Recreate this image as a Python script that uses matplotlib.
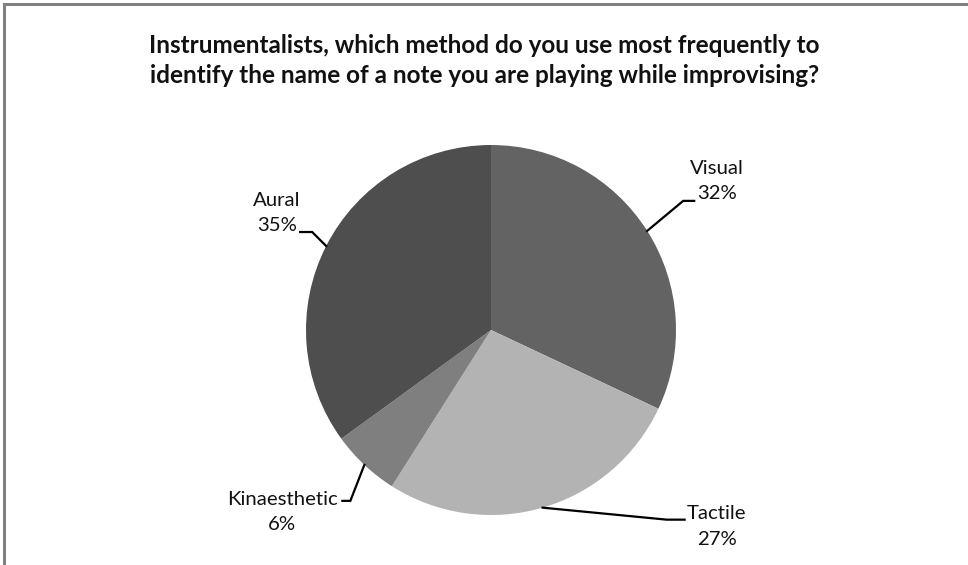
import numpy as np
import matplotlib
matplotlib.use("Agg")
import matplotlib.pyplot as plt
from matplotlib.patches import Rectangle

title = ("Instrumentalists, which method do you use most frequently to\n"
         "identify the name of a note you are playing while improvising?")
labels = ["Visual", "Tactile", "Kinaesthetic", "Aural"]
shares = [32, 27, 6, 35]
colors = ["#636363", "#b3b3b3", "#7f7f7f", "#4e4e4e"]

# label placement (pixel offsets from the wedge edge point): elbow, line end, text centre
elbows = [(36, 30), (124, -12), (-14, -36), (-14, 14)]
line_ends = [(47, 30), (142, -12), (-22, -36), (-26, 14)]
text_pos = [(70, 50), (174, -19), (-82, -47), (-49, 33)]

W, H = 968, 565
plt.rcParams["font.family"] = ["Lato", "DejaVu Sans"]

fig = plt.figure(figsize=(W / 100, H / 100), dpi=100)
ax = fig.add_axes([0, 0, 1, 1])

cx, cy, r = 491, H - 330, 185
wedges, _ = ax.pie(shares, colors=colors, startangle=90, counterclock=False,
                   center=(cx, cy), radius=r, frame=True,
                   wedgeprops=dict(edgecolor="none"))
ax.set_xlim(0, W)
ax.set_ylim(0, H)
ax.set_aspect("equal")
ax.axis("off")

for w, lab, val, el, le, tp in zip(wedges, labels, shares, elbows, line_ends, text_pos):
    ang = np.deg2rad((w.theta1 + w.theta2) / 2)
    ex, ey = cx + r * np.cos(ang), cy + r * np.sin(ang)
    ax.plot([ex, ex + el[0], ex + le[0]], [ey, ey + el[1], ey + le[1]],
            color="black", lw=1.6, solid_joinstyle="miter")
    ax.text(ex + tp[0], ey + tp[1], f"{lab}\n{val}%", ha="center", va="center",
            fontsize=14.7, linespacing=1.6, color="#111111")

ax.text(484.5, H - 60.5, title, ha="center", va="center", fontsize=17.5,
        fontweight="bold", linespacing=1.37, color="#111111")

ax.add_patch(Rectangle((4, -20), W + 20, H - 4 + 20, fill=False,
                       edgecolor="#808080", lw=2.2, clip_on=False))

fig.savefig("out.png", dpi=100)
